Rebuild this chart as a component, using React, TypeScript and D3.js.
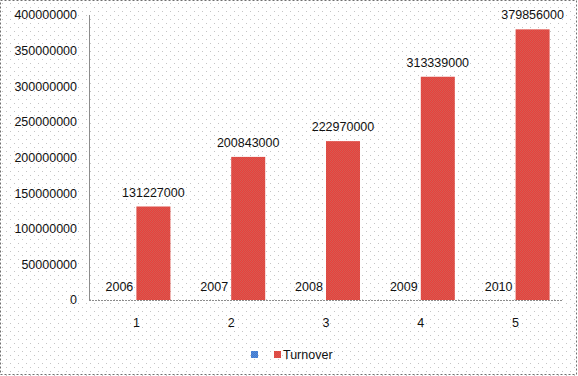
import React from "react";
import * as d3 from "d3";

const categories = ["1", "2", "3", "4", "5"];
const yearValues = [2006, 2007, 2008, 2009, 2010];
const turnoverValues = [131227000, 200843000, 222970000, 313339000, 379856000];
const yTicks = [0, 50000000, 100000000, 150000000, 200000000, 250000000, 300000000, 350000000, 400000000];
const seriesNames = ["", "Turnover"];

const W = 578;
const H = 376;
const left = 89;
const right = 563;
const top = 15;
const bottom = 300;
const font = "'Liberation Sans', Arial, sans-serif";

export default function App() {
  const x = d3.scaleBand<string>().domain(categories).range([left, right]).padding(0);
  const inner = d3
    .scaleBand<string>()
    .domain(["year", "turnover"])
    .range([0, x.bandwidth()])
    .paddingInner(0)
    .paddingOuter(0.394);
  const y = d3.scaleLinear().domain([0, 400000000]).range([bottom, top]);

  return (
    <div style={{ position: "absolute", left: 0, top: 0 }}>
      <svg width={W} height={H} style={{ display: "block" }}>
        <defs>
          <pattern id="dots" width="8" height="8" patternUnits="userSpaceOnUse">
            <rect x="2" y="3" width="1" height="1" fill="#c4c4c4" />
            <rect x="6" y="7" width="1" height="1" fill="#c4c4c4" />
          </pattern>
          <pattern id="redchk" width="2" height="2" patternUnits="userSpaceOnUse">
            <rect x="0" y="0" width="2" height="2" fill="#e8403a" />
            <rect x="0" y="0" width="1" height="1" fill="#d45a52" />
            <rect x="1" y="1" width="1" height="1" fill="#d45a52" />
          </pattern>
          <pattern id="bluechk" width="2" height="2" patternUnits="userSpaceOnUse">
            <rect x="0" y="0" width="2" height="2" fill="#3a78d0" />
            <rect x="0" y="0" width="1" height="1" fill="#5a8cd8" />
            <rect x="1" y="1" width="1" height="1" fill="#5a8cd8" />
          </pattern>
        </defs>
        <rect x={0} y={0} width={W} height={H} fill="#ffffff" />
        <rect x={0} y={0} width={W} height={H} fill="url(#dots)" />
        <rect
          x={0.5}
          y={0.5}
          width={W - 2}
          height={H - 2}
          fill="none"
          stroke="#707070"
          strokeDasharray="2,2"
        />
        {/* y axis */}
        <line x1={left + 0.5} x2={left + 0.5} y1={top} y2={bottom} stroke="#8c8c8c" />
        {yTicks.map((t) => (
          <text
            key={t}
            x={77}
            y={y(t)}
            dy="0.35em"
            textAnchor="end"
            fontFamily={font}
            fontSize={12.5}
            fill="#111"
          >
            {t}
          </text>
        ))}
        {/* bars */}
        {categories.map((c, i) => {
          const bx = x(c)!;
          const yx = bx + inner("year")!;
          const tx = bx + inner("turnover")!;
          const bw = inner.bandwidth();
          return (
            <g key={c}>
              <rect
                x={tx}
                y={y(turnoverValues[i])}
                width={bw}
                height={bottom - y(turnoverValues[i])}
                fill="url(#redchk)"
              />
              <rect
                x={yx}
                y={y(yearValues[i])}
                width={bw}
                height={bottom - y(yearValues[i])}
                fill="url(#bluechk)"
              />
              <text
                x={tx + bw / 2}
                y={y(turnoverValues[i]) - 10}
                textAnchor="middle"
                fontFamily={font}
                fontSize={12.5}
                fill="#111"
              >
                {turnoverValues[i]}
              </text>
              <text
                x={yx + bw / 2}
                y={y(yearValues[i]) - 9}
                textAnchor="middle"
                fontFamily={font}
                fontSize={12.5}
                fill="#111"
              >
                {yearValues[i]}
              </text>
              <text
                x={bx + x.bandwidth() / 2}
                y={323}
                dy="0.35em"
                textAnchor="middle"
                fontFamily={font}
                fontSize={12.5}
                fill="#111"
              >
                {c}
              </text>
            </g>
          );
        })}
        {/* x axis baseline */}
        <line
          x1={left}
          x2={right}
          y1={bottom + 0.5}
          y2={bottom + 0.5}
          stroke="#8c8c8c"
          strokeDasharray="2,1"
        />
        {/* legend */}
        <rect x={251} y={351} width={7} height={7} fill="url(#bluechk)" />
        <text x={262} y={355} dy="0.35em" fontFamily={font} fontSize={12.5} fill="#111">
          {seriesNames[0]}
        </text>
        <rect x={274} y={351} width={7} height={7} fill="url(#redchk)" />
        <text x={283} y={355} dy="0.35em" fontFamily={font} fontSize={12.5} fill="#111">
          {seriesNames[1]}
        </text>
      </svg>
    </div>
  );
}
